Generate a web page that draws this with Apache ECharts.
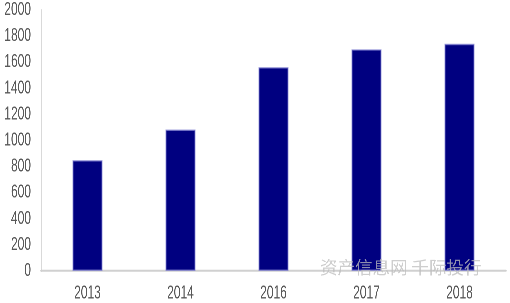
<!DOCTYPE html>
<html><head><meta charset="utf-8">
<script src="https://cdn.jsdelivr.net/npm/echarts@6/dist/echarts.min.js"></script>
<style>
html,body{margin:0;padding:0;background:#fff;overflow:hidden}
#wrap{width:510px;height:303px;overflow:hidden}
#c{width:510px;height:202px;transform:scaleY(1.5);transform-origin:0 0}
</style>
</head><body><div id="wrap"><div id="c"></div></div>
<script>
var categories = ['2013', '2014', '2016', '2017', '2018'];
var values = [850, 1085, 1563, 1700, 1742];
var yTicks = [0, 2000, 200];
var watermark = '资产信息网 千际投行';

var chart = echarts.init(document.getElementById('c'), null, {devicePixelRatio: 3});
chart.setOption({
  animation: false,
  grid: {left: 41, right: 4, top: 6.7, bottom: 21.3},
  xAxis: {
    type: 'category', data: categories,
    axisLine: {lineStyle: {color: '#d0d0d0', width: 1.3}},
    axisTick: {show: false},
    axisLabel: {color: '#595959', fontSize: 12, fontFamily: 'Liberation Sans', margin: 9}
  },
  yAxis: {
    type: 'value', min: yTicks[0], max: yTicks[1], interval: yTicks[2],
    axisLine: {show: true, lineStyle: {color: '#d9d9d9', width: 1.3}},
    axisTick: {show: false},
    splitLine: {show: false},
    axisLabel: {color: '#595959', fontSize: 12, fontFamily: 'Liberation Sans', margin: 10,
      formatter: function (v) { return String(v); }}
  },
  series: [{
    type: 'bar', data: values, barWidth: 30,
    itemStyle: {color: '#000080', borderColor: 'rgba(130,130,210,0.7)', borderWidth: 1}
  }],
  graphic: [{
    type: 'text', x: 320, y: 172.5, scaleY: 1 / 1.5, z: 100,
    style: {text: watermark, fill: 'rgba(190,190,190,0.75)', font: '17.5px "Noto Sans CJK SC"', verticalAlign: 'top'}
  }]
});
</script></body></html>
